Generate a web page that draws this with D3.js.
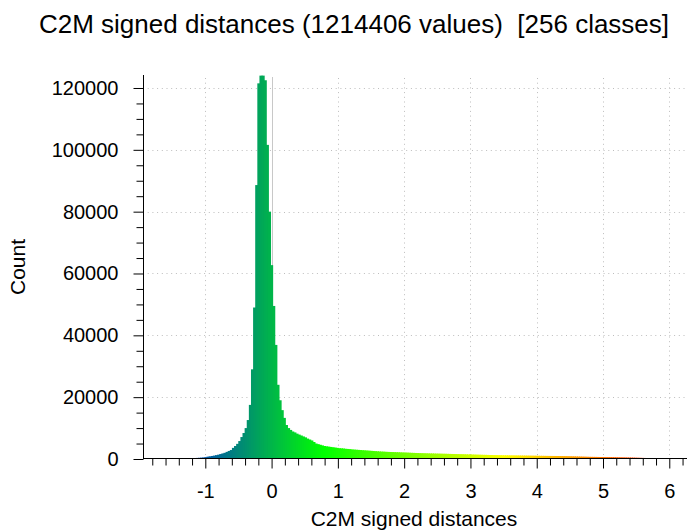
<!DOCTYPE html>
<html>
<head>
<meta charset="utf-8">
<script src="https://cdn.jsdelivr.net/npm/d3@7"></script>
<style>
  body { margin: 0; background: #ffffff; }
  svg { display: block; }
  text { font-family: "Liberation Sans", Arial, sans-serif; fill: #000; }
</style>
</head>
<body>
<script>
// histogram of C2M signed distances, 256 classes between min and max
var minValue = -1.94;
var maxValue = 6.237;
var totalValues = 1214406;

// counts per class (left to right)
var counts = [
    20, 25, 30, 40, 45, 55, 60, 70, 80, 85, 95, 105, 115, 125, 140, 150,
    160, 175, 190, 205, 225, 245, 265, 290, 320, 350, 390, 440, 500, 600, 760, 860,
    980, 1100, 1250, 1400, 1600, 1800, 2000, 2300, 2600, 2900, 3600, 4200, 4900, 5800, 7100, 8400,
    10000, 12600, 17500, 29000, 49000, 88600, 121500, 124000, 124000, 122500, 101600, 80000, 62700, 49500, 36900, 24000,
    19000, 15800, 13300, 11000, 10000, 9400, 8900, 8600, 8200, 7900, 7600, 7300, 7000, 6600, 6300, 6000,
    5500, 5000, 4800, 4600, 4400, 4200, 4100, 4000, 3900, 3800, 3700, 3600, 3500, 3450, 3400, 3300,
    3250, 3200, 3100, 3050, 3000, 2950, 2900, 2850, 2800, 2750, 2700, 2650, 2600, 2550, 2500, 2450,
    2400, 2380, 2330, 2300, 2270, 2250, 2220, 2200, 2180, 2150, 2120, 2100, 2070, 2040, 2000, 1980,
    1950, 1930, 1900, 1880, 1860, 1840, 1820, 1800, 1790, 1770, 1750, 1740, 1720, 1700, 1690, 1670,
    1650, 1630, 1620, 1600, 1580, 1560, 1550, 1530, 1510, 1490, 1470, 1450, 1430, 1410, 1390, 1370,
    1350, 1340, 1320, 1300, 1290, 1270, 1260, 1240, 1230, 1210, 1200, 1190, 1180, 1170, 1160, 1150,
    1140, 1130, 1120, 1110, 1100, 1090, 1080, 1070, 1060, 1050, 1040, 1030, 1020, 1010, 1000, 990,
    985, 980, 975, 970, 960, 950, 935, 920, 900, 880, 860, 840, 820, 800, 780, 760,
    740, 720, 700, 690, 680, 670, 660, 650, 640, 630, 620, 610, 600, 590, 575, 560,
    545, 530, 515, 500, 485, 470, 455, 440, 420, 400, 380, 360, 340, 320, 300, 280,
    260, 240, 220, 200, 185, 170, 155, 140, 125, 110, 95, 80, 65, 50, 35, 20
];

var xTicks = [-1, 0, 1, 2, 3, 4, 5, 6];
var yTicks = [0, 20000, 40000, 60000, 80000, 100000, 120000];
var yMax = 124200;

// colour scale steps (blue > green > yellow > red)
var scaleColors = ["#0000ff", "#00ff00", "#ffff00", "#ff0000"];

var w = 687;
var h = 530;
var plotLeft = 143, plotRight = 685, plotTop = 75, plotBottom = 459;

var svg = d3.select("body").append("svg")
    .attr("width", w)
    .attr("height", h);

var x = d3.scaleLinear().domain([minValue, maxValue]).range([plotLeft, plotRight]);
var y = d3.scaleLinear().domain([0, yMax]).range([plotBottom, plotTop]);

var range = maxValue - minValue;
var color = d3.scaleLinear()
    .domain([minValue, minValue + range / 3, minValue + 2 * range / 3, maxValue])
    .range(scaleColors);

var binWidth = range / counts.length;

// dotted grid
var grid = svg.append("g").attr("stroke", "#bdbdbd").attr("stroke-dasharray", "1,3.7");
grid.selectAll("line.gx").data(xTicks).enter().append("line")
    .attr("x1", d => Math.round(x(d)) + 0.5).attr("x2", d => Math.round(x(d)) + 0.5)
    .attr("y1", plotTop + 3).attr("y2", plotBottom);
grid.selectAll("line.gy").data(yTicks.slice(1)).enter().append("line")
    .attr("x1", plotLeft).attr("x2", plotRight)
    .attr("y1", d => Math.round(y(d)) + 0.5).attr("y2", d => Math.round(y(d)) + 0.5);

// marker line at zero
svg.append("line")
    .attr("x1", Math.round(x(0)) + 0.5).attr("x2", Math.round(x(0)) + 0.5)
    .attr("y1", plotTop + 2).attr("y2", plotBottom)
    .attr("stroke", "#c8c8c8").attr("stroke-width", 1);

// bars (1px overlap so no seams show between classes)
svg.append("g").selectAll("rect").data(counts).enter().append("rect")
    .attr("x", (d, i) => x(minValue + i * binWidth))
    .attr("width", (d, i) => x(minValue + (i + 1) * binWidth) - x(minValue + i * binWidth) + 1)
    .attr("y", d => y(d))
    .attr("height", d => plotBottom - y(d))
    .attr("fill", (d, i) => color(minValue + (i + 0.5) * binWidth));

// minor ticks
var xMinor = d3.range(-18, 63, 2).map(d => d / 10).filter(d => !xTicks.includes(d));
var yMinor = d3.range(5000, yMax, 5000).filter(d => d % 20000 !== 0);

var xAxis = svg.append("g")
    .attr("transform", "translate(0," + (plotBottom - 0.5) + ")")
    .call(d3.axisBottom(x).tickValues(xTicks).tickSize(10).tickPadding(15).tickFormat(d => String(d)));
svg.append("g")
    .attr("transform", "translate(0," + (plotBottom - 0.5) + ")")
    .call(d3.axisBottom(x).tickValues(xMinor).tickSize(7).tickFormat(""))
    .select(".domain").remove();

var yAxis = svg.append("g")
    .attr("transform", "translate(" + (plotLeft + 0.5) + ",0)")
    .call(d3.axisLeft(y).tickValues(yTicks).tickSize(10).tickPadding(15).tickFormat(d => String(d)));
svg.append("g")
    .attr("transform", "translate(" + (plotLeft + 0.5) + ",0)")
    .call(d3.axisLeft(y).tickValues(yMinor).tickSize(7).tickFormat(""))
    .select(".domain").remove();

xAxis.select(".domain").remove();
yAxis.select(".domain").remove();
svg.append("line").attr("x1", plotLeft).attr("x2", plotRight + 2)
    .attr("y1", plotBottom - 0.5).attr("y2", plotBottom - 0.5).attr("stroke", "#000");
svg.append("line").attr("x1", plotLeft + 0.5).attr("x2", plotLeft + 0.5)
    .attr("y1", plotTop).attr("y2", plotBottom).attr("stroke", "#000");

svg.selectAll(".tick line").attr("stroke", "#000");
svg.selectAll(".tick text").style("font-size", "20px").style("font-family", "Liberation Sans, Arial, sans-serif").attr("fill", "#000");

// titles
svg.append("text")
    .attr("x", 354).attr("y", 33)
    .attr("text-anchor", "middle")
    .style("font-size", "26px")
    .style("white-space", "pre")
    .text("C2M signed distances (" + totalValues + " values)  [" + counts.length + " classes]");

svg.append("text")
    .attr("x", (plotLeft + plotRight) / 2).attr("y", 526)
    .attr("text-anchor", "middle")
    .style("font-size", "21px")
    .text("C2M signed distances");

svg.append("text")
    .attr("transform", "translate(25," + (plotTop + plotBottom) / 2 + ") rotate(-90)")
    .attr("text-anchor", "middle")
    .style("font-size", "21px")
    .text("Count");
</script>
</body>
</html>
